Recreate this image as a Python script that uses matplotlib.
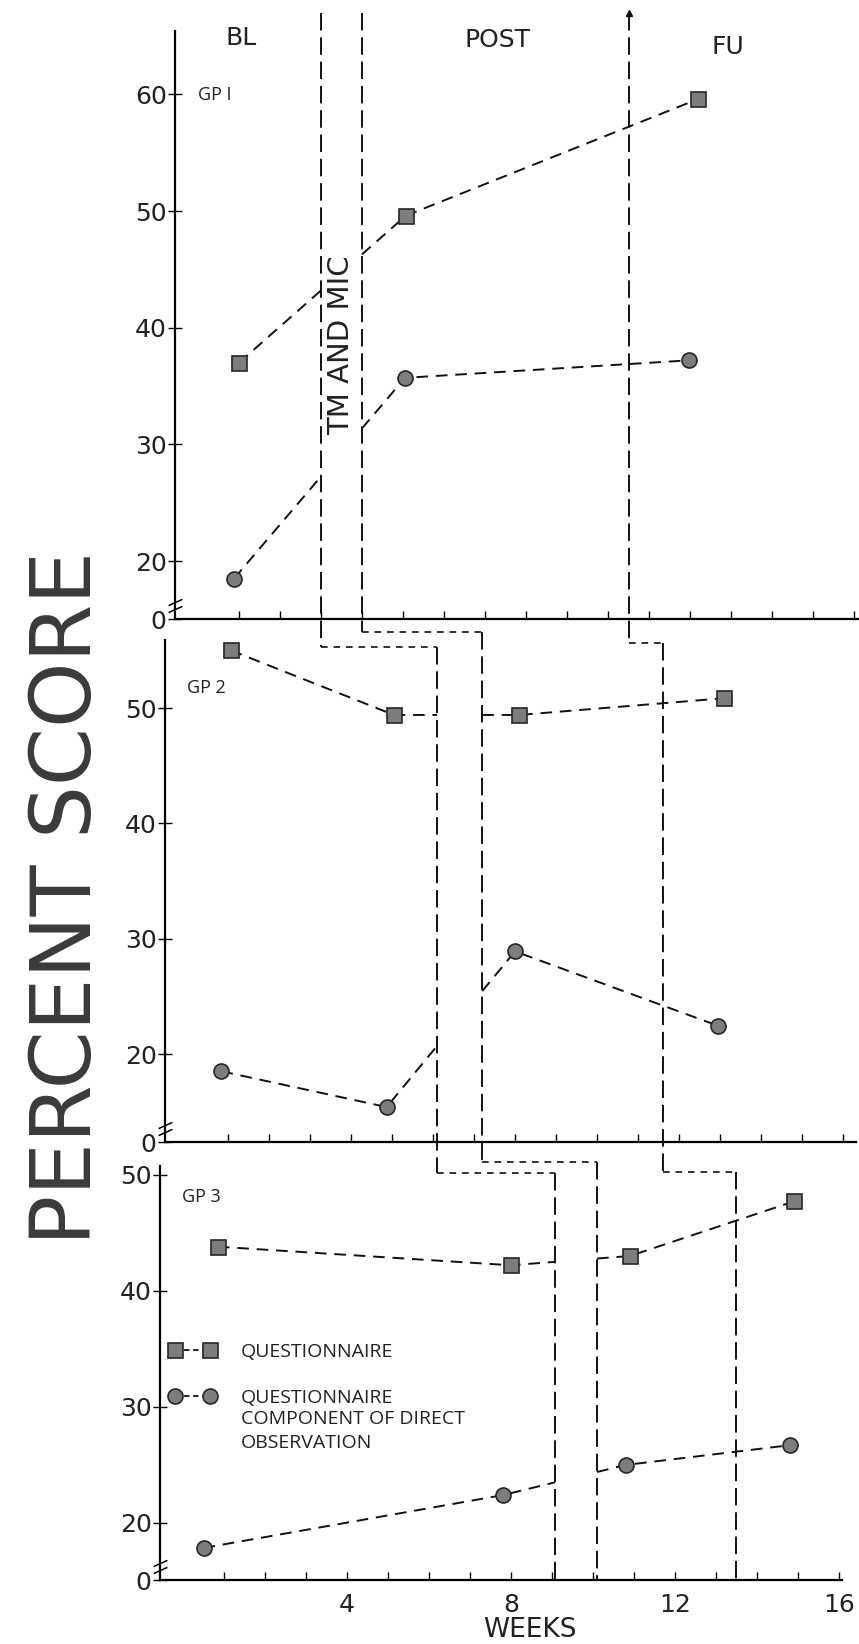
import matplotlib
matplotlib.use("Agg")
import matplotlib.pyplot as plt
import matplotlib.transforms as mtransforms
import numpy as np
from matplotlib.lines import Line2D

W, H = 859, 1644

# ---- data (weeks, percent score) ----
gp1_q_weeks = [1.0, 5.07, 12.2]
gp1_q = [37.0, 49.6, 59.6]
gp1_o_weeks = [0.88, 5.05, 11.97]
gp1_o = [18.5, 35.7, 37.2]

gp2_q_weeks = [1.07, 5.05, 8.1, 13.1]
gp2_q = [55.0, 49.4, 49.4, 50.85]
gp2_o_weeks = [0.84, 4.87, 8.0, 12.95]
gp2_o = [18.5, 15.4, 28.9, 22.45]

gp3_q_weeks = [0.85, 8.0, 10.9, 14.9]
gp3_q = [43.8, 42.2, 43.0, 47.7]
gp3_o_weeks = [0.5, 7.8, 10.8, 14.8]
gp3_o = [17.85, 22.4, 25.0, 26.7]

# phase changes for each group (weeks)
bl_end = [3.0, 6.1, 9.07]
post_start = [4.0, 7.2, 10.1]
fu_start = [10.5, 11.6, 13.5]

group_labels = ["GP I", "GP 2", "GP 3"]
phase_labels = ["BL", "POST", "FU"]
yticks = [[20, 30, 40, 50, 60], [20, 30, 40, 50], [20, 30, 40, 50]]
week_ticks = list(range(1, 17))
week_labels = [4, 8, 12, 16]

# ---- layout (pixels from top-left) ----
panel_px = [(175, 31, 859, 619), (165, 640, 856, 1142), (160, 1166, 842, 1580)]
week0_px = [198, 187, 183]
px_per_week = 41.0
ylims = [(15.03, 65.43), (12.37, 55.9), (15.09, 50.75)]
gp_label_px = [(198, 95), (187, 688), (182, 1197)]
step1_px = [647, 632, 643]
step2_px = [1173, 1162, 1172]
top_px = 13

series = [
    (gp1_q_weeks, gp1_q, gp1_o_weeks, gp1_o),
    (gp2_q_weeks, gp2_q, gp2_o_weeks, gp2_o),
    (gp3_q_weeks, gp3_q, gp3_o_weeks, gp3_o),
]

MFC = "#7d7d7d"
MEC = "#262626"
data_ls = (0, (6, 4))
phase_ls = (0, (9, 3.5))
step_ls = (0, (4, 3.5))
SANS2 = ["Open Sans", "DejaVu Sans"]

plt.rcParams["font.family"] = ["DejaVu Sans"]
fig = plt.figure(figsize=(W / 100, H / 100), dpi=100)


def px_rect(l, t, r, b):
    return [l / W, 1 - b / H, (r - l) / W, (b - t) / H]


def split_at_gap(xs, ys, lo, hi):
    xs = np.asarray(xs, float)
    ys = np.asarray(ys, float)
    pre = xs < lo
    post = xs > hi
    x1 = np.append(xs[pre], lo)
    y1 = np.append(ys[pre], np.interp(lo, xs, ys))
    x2 = np.insert(xs[post], 0, hi)
    y2 = np.insert(ys[post], 0, np.interp(hi, xs, ys))
    return (x1, y1), (x2, y2)


axes = []
for i, (l, t, r, b) in enumerate(panel_px):
    ax = fig.add_axes(px_rect(l, t, r, b))
    ax.set_xlim((l - week0_px[i]) / px_per_week, (r - week0_px[i]) / px_per_week)
    ax.set_ylim(*ylims[i])
    ax.set_facecolor("none")
    for s in ["top", "right"]:
        ax.spines[s].set_visible(False)
    for s in ["left", "bottom"]:
        ax.spines[s].set_linewidth(1.6)

    y0 = ylims[i][0]
    ax.set_yticks([y0] + yticks[i])
    ax.set_yticklabels(["0"] + [str(v) for v in yticks[i]])
    ax.tick_params(axis="y", direction="inout", length=10, width=1.0,
                   pad=1, labelsize=18, labelcolor="#222222")
    ax.set_xticks(week_ticks)
    if i == 2:
        ax.set_xticklabels([str(w) if w in week_labels else "" for w in week_ticks])
    else:
        ax.set_xticklabels([])
    ax.tick_params(axis="x", direction="in", length=6, width=1.0,
                   pad=9, labelsize=18, labelcolor="#222222")

    # axis break on the y axis
    trans = mtransforms.blended_transform_factory(ax.transAxes, ax.transData)
    ax.plot([0, 0], [y0 + 0.9, y0 + 1.5], transform=trans, ls="none",
            marker=[(-1, -0.45), (1, 0.45)], ms=10, mew=1.1, mec="k",
            clip_on=False, zorder=5)

    # data: dashed connecting lines broken over the treatment phase
    qw, qv, ow, ov = series[i]
    for xs, ys, mk in [(qw, qv, "s"), (ow, ov, "o")]:
        for seg in split_at_gap(xs, ys, bl_end[i], post_start[i]):
            ax.plot(seg[0], seg[1], color="#111111", lw=1.4, ls=data_ls,
                    zorder=3, clip_on=False)
        ax.plot(xs, ys, ls="none", marker=mk, ms=10.8, mfc=MFC, mec=MEC,
                mew=1.2, zorder=4, clip_on=False)

    gx, gy = gp_label_px[i]
    fig.text(gx / W, 1 - gy / H, group_labels[i], fontsize=13,
             family=SANS2, ha="left", va="center", color="#222222")
    axes.append(ax)

# ---- staircase phase-change lines across the panels ----
def xdisp(i, w):
    return axes[i].transData.transform((w, ylims[i][0]))[0]


for k, bounds in enumerate([bl_end, post_start, fu_start]):
    xs = [xdisp(i, bounds[i]) for i in range(3)]
    s1 = H - step1_px[k]
    s2 = H - step2_px[k]
    bottom = H - panel_px[2][3]
    verts = [([xs[0], xs[0]], [H - top_px, s1]),
             ([xs[1], xs[1]], [s1, s2]),
             ([xs[2], xs[2]], [s2, bottom])]
    for vx, vy in verts:
        fig.add_artist(Line2D(vx, vy, transform=mtransforms.IdentityTransform(),
                              color="#111111", lw=1.4, ls=phase_ls, zorder=2))
    for (xa, xb, yy) in [(xs[0], xs[1], s1), (xs[1], xs[2], s2)]:
        fig.add_artist(Line2D([xa, xb], [yy, yy],
                              transform=mtransforms.IdentityTransform(),
                              color="#111111", lw=1.2, ls=step_ls, zorder=2))
    if k == 2:
        fig.add_artist(Line2D([xs[0]], [H - top_px],
                              transform=mtransforms.IdentityTransform(),
                              marker="^", ms=4, color="#111111", ls="none"))

# ---- phase labels ----
top = axes[0]
phase_pos = [(1.05, 64.8), (7.3, 64.7), (12.93, 64.1)]
for lab, (x, y) in zip(phase_labels, phase_pos):
    top.text(x, y, lab, fontsize=18, ha="center", va="center",
             color="#222222", clip_on=False)
top.text((bl_end[0] + post_start[0]) / 2, 38.5, "TM AND MIC", rotation=90,
         fontsize=21, ha="center", va="center", color="#222222")

# ---- legend in the bottom panel ----
h_q = Line2D([], [], color="#111111", lw=1.3, ls=(0, (3, 2)), marker="s",
             ms=10.8, mfc=MFC, mec=MEC, mew=1.2)
h_o = Line2D([], [], color="#111111", lw=1.3, ls=(0, (3, 2)), marker="o",
             ms=10.8, mfc=MFC, mec=MEC, mew=1.2)
leg = axes[2].legend([h_q, h_o], ["QUESTIONNAIRE", "QUESTIONNAIRE"],
                     loc="upper left", bbox_to_anchor=(169 / W, 1 - 1343 / H),
                     bbox_transform=fig.transFigure, frameon=False,
                     numpoints=2, handlelength=2.4, handletextpad=1.3,
                     labelspacing=1.45, borderpad=0, borderaxespad=0,
                     prop={"family": SANS2, "size": 14})
for t in leg.get_texts():
    t.set_color("#222222")

fig.canvas.draw()
bb = leg.get_texts()[1].get_window_extent()
fig.text(bb.x0 / W, (bb.y0 - 3) / H, "COMPONENT OF DIRECT\nOBSERVATION",
         family=SANS2, fontsize=14, ha="left", va="top",
         linespacing=1.4, color="#222222")

# ---- axis titles ----
fig.text(68 / W, 1 - 898 / H, "PERCENT SCORE", rotation=90, fontsize=60,
         ha="center", va="center", color="#3a3a3a")
fig.text(530 / W, 1 - 1630 / H, "WEEKS", fontsize=19, ha="center",
         va="center", color="#222222")

fig.savefig("out.png", dpi=100)
